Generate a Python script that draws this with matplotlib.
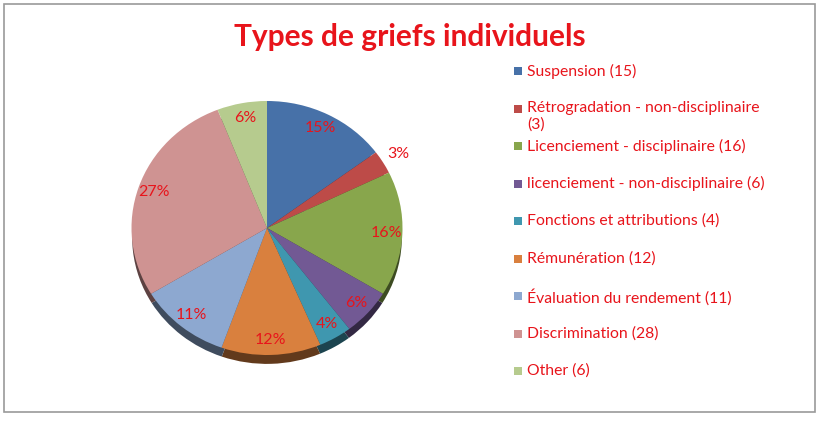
import matplotlib
matplotlib.use("Agg")
import matplotlib.pyplot as plt
import numpy as np
from matplotlib.colors import to_rgb
from matplotlib.patches import Rectangle

plt.rcParams["font.family"] = ["Lato", "DejaVu Sans"]

# data
categories = [
    "Suspension (15)",
    "Rétrogradation - non-disciplinaire\n(3)",
    "Licenciement - disciplinaire (16)",
    "licenciement - non-disciplinaire (6)",
    "Fonctions et attributions (4)",
    "Rémunération (12)",
    "Évaluation du rendement (11)",
    "Discrimination (28)",
    "Other (6)",
]
counts = [15, 3, 16, 6, 4, 12, 11, 28, 6]
pct_labels = ["15%", "3%", "16%", "6%", "4%", "12%", "11%", "27%", "6%"]
colors = ["#4771A8", "#BD4B48", "#88A64C", "#725994", "#3F97AF",
          "#D9803E", "#8DA8D0", "#CF9392", "#B6CB8E"]
title = "Types de griefs individuels"
red = "#E8141B"

W, H, DPI = 829, 421, 100
fig = plt.figure(figsize=(W / DPI, H / DPI), dpi=DPI)

# pie axes, slightly squashed like the Excel 3D tilt
cx, cy, rx, ry = 267, 228, 135.5, 127
ax = fig.add_axes([(cx - rx) / W, 1 - (cy + ry) / H, 2 * rx / W, 2 * ry / H])

shadow = [tuple(c * 0.45 for c in to_rgb(col)) for col in colors]
ax.pie(counts, colors=shadow, startangle=90, counterclock=False,
       center=(0, -0.075), radius=0.995, wedgeprops=dict(linewidth=0))
wedges, _ = ax.pie(counts, colors=colors, startangle=90, counterclock=False,
                   radius=1.0, wedgeprops=dict(linewidth=0))
ax.set_aspect("auto")
ax.set_xlim(-1, 1)
ax.set_ylim(-1, 1)
for w in ax.patches:
    w.set_clip_on(False)

total = sum(counts)
for w, lab, n in zip(wedges, pct_labels, counts):
    mid = np.deg2rad((w.theta1 + w.theta2) / 2)
    r = 1.13 if n / total < 0.035 else 0.88
    ax.text(r * np.cos(mid), r * np.sin(mid), lab, ha="center", va="center",
            color=red, fontsize=11.5)

# overlay in pixel coordinates for title, legend and frame
ov = fig.add_axes([0, 0, 1, 1])
ov.set_xlim(0, W)
ov.set_ylim(H, 0)
ov.axis("off")
ov.add_patch(Rectangle((4, 4), 811, 408, fill=False, edgecolor="#9A9A9A", linewidth=1.2))
ov.text(410, 37, title, ha="center", va="center", color=red,
        fontsize=21.5, fontweight="bold")

for i, (lab, col) in enumerate(zip(categories, colors)):
    y = 71 + i * 37.5
    ov.add_patch(Rectangle((514, y - 4), 8, 8, facecolor=col, edgecolor="none"))
    ov.text(527, y - 7.5, lab, ha="left", va="top", color=red, fontsize=11.3,
            linespacing=1.25)

fig.savefig("out.png", dpi=DPI)
